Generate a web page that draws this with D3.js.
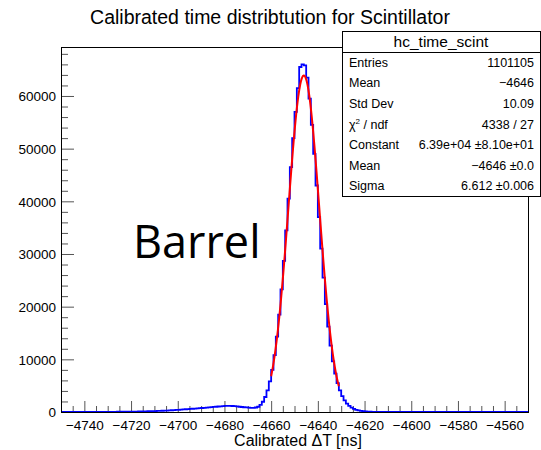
<!DOCTYPE html>
<html>
<head>
<meta charset="utf-8">
<script src="https://cdn.jsdelivr.net/npm/d3@7"></script>
<style>
  body { margin: 0; background: #fff; }
  text { font-family: "Liberation Sans", Arial, Helvetica, sans-serif; fill: #000; }
</style>
</head>
<body>
<div id="chart"></div>
<script>
// histogram: 200 bins of 1 ns, starting at -4750
var binStart = -4750;
var binWidth = 1;
var counts = [
  8, 9, 9, 10, 10, 11, 12, 12, 13, 14,                                // -4750
  15, 16, 17, 18, 20, 21, 23, 25, 27, 29,                             // -4740
  31, 34, 37, 40, 44, 48, 52, 57, 62, 68,                             // -4730
  74, 81, 88, 96, 105, 115, 126, 138, 151, 165,                       // -4720
  180, 197, 215, 235, 257, 280, 305, 332, 360, 390,                   // -4710
  420, 452, 485, 518, 552, 586, 620, 654, 688, 720,                   // -4700
  760, 800, 840, 880, 920, 960, 1000, 1040, 1080, 1120,               // -4690
  1160, 1180, 1170, 1140, 1100, 1050, 1000, 950, 900, 860,            // -4680
  820, 790, 780, 850, 1000, 1350, 1950, 2850, 4100, 5800,             // -4670
  8000, 10800, 14300, 18500, 23300, 28700, 34500, 40500, 46500, 52000,  // -4660
  57000, 61500, 65500, 66000, 65800, 63500, 59500, 54500, 49000, 43000, // -4650
  37000, 31000, 25500, 20500, 16200, 12600, 9600, 7300, 5500, 4100,   // -4640
  3000, 2200, 1600, 1150, 820, 580, 410, 290, 200, 140,               // -4630
  95, 65, 45, 30, 22, 16, 12, 10, 8, 7,                               // -4620
  6, 6, 5, 5, 5, 4, 4, 4, 4, 3,                                       // -4610
  3, 3, 3, 3, 3, 2, 2, 2, 2, 2,                                       // -4600
  2, 2, 2, 2, 2, 1, 1, 1, 1, 1,                                       // -4590
  1, 1, 1, 1, 1, 1, 1, 1, 1, 1,                                       // -4580
  1, 1, 1, 1, 0, 0, 0, 1, 0, 0,                                       // -4570
  0, 0, 0, 0, 0, 0, 0, 0, 0, 0                                        // -4560
];

var xTicks = [-4740, -4720, -4700, -4680, -4660, -4640, -4620, -4600, -4580, -4560];
var yTicks = [0, 10000, 20000, 30000, 40000, 50000, 60000];

// gaussian fit parameters (from the stats box)
var fitConstant = 63900;
var fitMean = -4646;
var fitSigma = 6.612;
var fitRange = [-4660, -4631];

var statsTitle = "hc_time_scint";
var statsLabels = ["Entries", "Mean", "Std Dev", "chi2", "Constant", "Mean", "Sigma"];
var statsValues = ["1101105", "\u22124646", "10.09", "4338 / 27", "6.39e+04 \u00b18.10e+01", "\u22124646 \u00b10.0", "6.612 \u00b10.006"];

var svgWidth = 541;
var svgHeight = 450;
var frame = { left: 61, right: 528, top: 47, bottom: 412 };

var svg = d3.select("#chart")
  .append("svg")
  .attr("width", svgWidth)
  .attr("height", svgHeight);

var xScale = d3.scaleLinear()
  .domain([binStart, binStart + counts.length * binWidth])
  .range([frame.left, frame.right]);

var yScale = d3.scaleLinear()
  .domain([0, 69300])
  .range([frame.bottom, frame.top]);

var fmtMinus = function(v) { return String(v).replace("-", "\u2212"); };

// title
svg.append("text")
  .attr("x", 270)
  .attr("y", 24)
  .attr("text-anchor", "middle")
  .attr("font-size", 19.5)
  .text("Calibrated time distribtution for Scintillator");

// clip for the plot area
svg.append("clipPath").attr("id", "plotClip")
  .append("rect")
  .attr("x", frame.left).attr("y", frame.top)
  .attr("width", frame.right - frame.left).attr("height", frame.bottom - frame.top);

// x axis: major and minor ticks pointing up into the frame
var xMinor = d3.range(-4750, -4549, 5).filter(function(v) { return xTicks.indexOf(v) < 0; });
svg.append("g")
  .attr("transform", "translate(0," + frame.bottom + ")")
  .call(d3.axisBottom(xScale).tickValues(xMinor).tickSize(-6).tickFormat(""))
  .call(function(g) { g.select(".domain").remove(); });

var xAxisG = svg.append("g")
  .attr("transform", "translate(0," + frame.bottom + ")")
  .call(d3.axisBottom(xScale).tickValues(xTicks).tickSizeInner(-11).tickSizeOuter(0).tickPadding(0).tickFormat(fmtMinus));
xAxisG.select(".domain").remove();
xAxisG.selectAll(".tick text")
  .attr("y", 18)
  .attr("dy", 0)
  .attr("font-size", 13.5)
  .attr("font-family", "Liberation Sans, Arial, sans-serif")
  .attr("fill", "#000");

// y axis: major and minor ticks pointing right into the frame
var yMinor = d3.range(0, 69300, 2000).filter(function(v) { return v % 10000 !== 0; });
svg.append("g")
  .attr("transform", "translate(" + frame.left + ",0)")
  .call(d3.axisLeft(yScale).tickValues(yMinor).tickSize(-7).tickFormat(""))
  .call(function(g) { g.select(".domain").remove(); });

var yAxisG = svg.append("g")
  .attr("transform", "translate(" + frame.left + ",0)")
  .call(d3.axisLeft(yScale).tickValues(yTicks).tickSizeInner(-13).tickSizeOuter(0).tickPadding(0).tickFormat(d3.format("d")));
yAxisG.select(".domain").remove();
yAxisG.selectAll(".tick text")
  .attr("x", -5)
  .attr("dy", "0.35em")
  .attr("font-size", 13.5)
  .attr("font-family", "Liberation Sans, Arial, sans-serif")
  .attr("fill", "#000");

svg.selectAll(".tick line").attr("stroke", "#555");

// histogram outline
var stepPoints = [[binStart, 0]];
counts.forEach(function(c, i) {
  stepPoints.push([binStart + i * binWidth, c]);
});
stepPoints.push([binStart + counts.length * binWidth, counts[counts.length - 1]]);
stepPoints.push([binStart + counts.length * binWidth, 0]);

var histLine = d3.line()
  .x(function(d) { return xScale(d[0]); })
  .y(function(d) { return yScale(d[1]); })
  .curve(d3.curveStepAfter);

svg.append("path")
  .datum(stepPoints)
  .attr("clip-path", "url(#plotClip)")
  .attr("fill", "none")
  .attr("stroke", "#0000ff")
  .attr("stroke-width", 1.8)
  .attr("d", histLine);

// fitted gaussian
var fitPoints = d3.range(fitRange[0], fitRange[1] + 0.001, (fitRange[1] - fitRange[0]) / 100).map(function(x) {
  var z = (x - fitMean) / fitSigma;
  return [x, fitConstant * Math.exp(-0.5 * z * z)];
});

svg.append("path")
  .datum(fitPoints)
  .attr("fill", "none")
  .attr("stroke", "#ff0000")
  .attr("stroke-width", 2)
  .attr("d", d3.line()
    .x(function(d) { return xScale(d[0]); })
    .y(function(d) { return yScale(d[1]); }));

// frame
svg.append("rect")
  .attr("x", frame.left + 0.5).attr("y", frame.top + 0.5)
  .attr("width", frame.right - frame.left).attr("height", frame.bottom - frame.top)
  .attr("fill", "none")
  .attr("stroke", "#000")
  .attr("stroke-width", 1);

// axis title
svg.append("text")
  .attr("x", 298)
  .attr("y", 446)
  .attr("text-anchor", "middle")
  .attr("font-size", 16)
  .text("Calibrated \u0394T [ns]");

// "Barrel" label
svg.append("text")
  .attr("x", 133)
  .attr("y", 258)
  .attr("font-size", 45)
  .style("font-family", "'Open Sans', 'Noto Sans', sans-serif")
  .text("Barrel");

// stats box
var box = { x: 342, y: 31, w: 198, h: 165, headH: 21 };
var statsG = svg.append("g");
statsG.append("rect")
  .attr("x", box.x + 0.5).attr("y", box.y + 0.5)
  .attr("width", box.w).attr("height", box.h)
  .attr("fill", "#fff").attr("stroke", "#000");
statsG.append("line")
  .attr("x1", box.x).attr("x2", box.x + box.w)
  .attr("y1", box.y + box.headH + 0.5).attr("y2", box.y + box.headH + 0.5)
  .attr("stroke", "#000");
statsG.append("text")
  .attr("x", box.x + box.w / 2)
  .attr("y", box.y + 15.5)
  .attr("text-anchor", "middle")
  .attr("font-size", 15.5)
  .text(statsTitle);

var rowH = (box.h - box.headH) / statsLabels.length;
statsLabels.forEach(function(lab, i) {
  var yy = box.y + box.headH + rowH * (i + 0.5) + 4.5;
  var t = statsG.append("text")
    .attr("x", box.x + 7)
    .attr("y", yy)
    .attr("font-size", 12.5);
  if (lab === "chi2") {
    t.append("tspan").text("\u03c7");
    t.append("tspan").attr("font-size", 8).attr("dy", -5).text("2");
    t.append("tspan").attr("dy", 5).text(" / ndf");
  } else {
    t.text(lab);
  }
  statsG.append("text")
    .attr("x", box.x + box.w - 6)
    .attr("y", yy)
    .attr("text-anchor", "end")
    .attr("font-size", 12.5)
    .text(statsValues[i]);
});
</script>
</body>
</html>
